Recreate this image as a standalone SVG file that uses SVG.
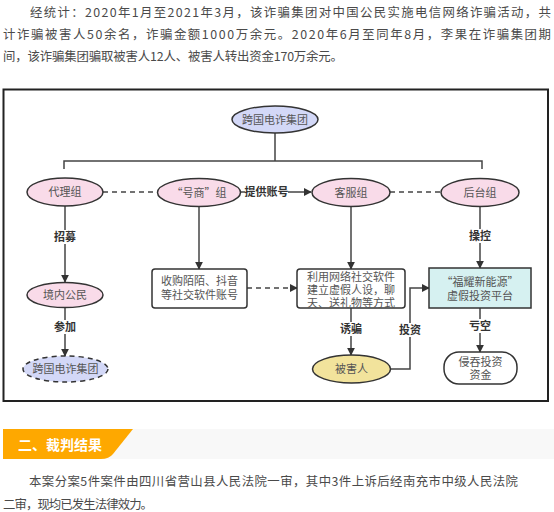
<svg xmlns="http://www.w3.org/2000/svg" width="554" height="512" viewBox="0 0 554 512">
<defs>
<marker id="ah" viewBox="0 0 10 10" refX="9" refY="5" markerWidth="8" markerHeight="8" markerUnits="userSpaceOnUse" orient="auto">
<path d="M0,0 L10,5 L0,10 Z" fill="#333"/>
</marker>
<style>
.para{font-family:"Noto Sans CJK SC","Microsoft YaHei",sans-serif;font-size:12.4px;fill:#4a4a4a}
.nt{font-family:"Noto Sans CJK SC",sans-serif;font-size:11px;fill:#555;text-anchor:middle}
.lb{font-family:"Noto Sans CJK SC",sans-serif;font-size:11px;font-weight:bold;fill:#333;text-anchor:middle}
.sh{stroke:#333;stroke-width:1.5}
.pink{fill:#f9dbe9}
.blue{fill:#d3d8f7}
.yel{fill:#f2e39c}
.cyan{fill:#d6f1f1}
.ln{fill:none;stroke:#444;stroke-width:1.5}
.dash{stroke-dasharray:5,4}
.lbg{fill:#fff}
</style>
</defs>
<rect width="554" height="512" fill="#fff"/>
<text class="para" x="30" y="16.5" textLength="521" lengthAdjust="spacing">经统计：2020年1月至2021年3月，该诈骗集团对中国公民实施电信网络诈骗活动，共</text>
<text class="para" x="3" y="38.5" textLength="548" lengthAdjust="spacing">计诈骗被害人50余名，诈骗金额1000万余元。2020年6月至同年8月，李果在诈骗集团期</text>
<text class="para" x="3" y="60.5" textLength="340" lengthAdjust="spacing">间，该诈骗集团骗取被害人12人、被害人转出资金170万余元。</text>

<rect x="3.5" y="89.5" width="544.5" height="311.5" fill="#fff" stroke="#222" stroke-width="2"/>

<g id="connectors">
<path class="ln" d="M275,133 V161 M64,169 V161 H482 V169"/>
<path class="ln dash" d="M103,192 H157"/>
<path class="ln" d="M240,192 H311" marker-end="url(#ah)"/>
<path class="ln dash" d="M390,192 H441"/>
<path class="ln" d="M65,206 V282" marker-end="url(#ah)"/>
<path class="ln" d="M65,307 V356" marker-end="url(#ah)"/>
<path class="ln" d="M199,207 V269" marker-end="url(#ah)"/>
<path class="ln dash" d="M247,288 H297" marker-end="url(#ah)"/>
<path class="ln" d="M351,207 V269" marker-end="url(#ah)"/>
<path class="ln" d="M351,308 V355" marker-end="url(#ah)"/>
<path class="ln" d="M390,369 H410 V288 H429" marker-end="url(#ah)"/>
<path class="ln" d="M480,207 V268" marker-end="url(#ah)"/>
<path class="ln" d="M480,308 V352" marker-end="url(#ah)"/>
<rect class="lbg" x="245" y="185" width="43" height="14"/>
<text class="lb" x="266.5" y="196">提供账号</text>
<rect class="lbg" x="53" y="230" width="24" height="14"/>
<text class="lb" x="65" y="241">招募</text>
<rect class="lbg" x="53" y="320" width="24" height="14"/>
<text class="lb" x="65" y="331">参加</text>
<rect class="lbg" x="339" y="322" width="24" height="14"/>
<text class="lb" x="351" y="333">诱骗</text>
<rect class="lbg" x="398" y="323" width="24" height="14"/>
<text class="lb" x="410" y="334">投资</text>
<rect class="lbg" x="468" y="229" width="24" height="14"/>
<text class="lb" x="480" y="240">操控</text>
<rect class="lbg" x="468" y="319" width="24" height="14"/>
<text class="lb" x="480" y="330">亏空</text>
</g>

<g id="n_top"><ellipse class="sh blue" cx="275" cy="119.5" rx="43" ry="13.5"/><text class="nt" x="275" y="123.5">跨国电诈集团</text></g>
<g id="n_daili"><ellipse class="sh pink" cx="65" cy="192" rx="38" ry="14"/><text class="nt" x="65" y="196">代理组</text></g>
<g id="n_haoshang"><ellipse class="sh pink" cx="199" cy="192.5" rx="41.5" ry="14"/><text class="nt" x="199" y="196.5">“号商”组</text></g>
<g id="n_kefu"><ellipse class="sh pink" cx="351" cy="192.5" rx="39" ry="14"/><text class="nt" x="351" y="196.5">客服组</text></g>
<g id="n_houtai"><ellipse class="sh pink" cx="480" cy="192.5" rx="39" ry="14"/><text class="nt" x="480" y="196.5">后台组</text></g>
<g id="n_jingnei"><ellipse class="sh pink" cx="65" cy="295" rx="38" ry="12.5"/><text class="nt" x="65" y="299">境内公民</text></g>
<g id="n_join"><ellipse class="sh blue dash" cx="65.5" cy="369" rx="42.5" ry="13"/><text class="nt" x="65.5" y="373">跨国电诈集团</text></g>
<g id="n_buy"><rect class="sh" fill="#fff" x="152" y="269" width="95" height="39" rx="3"/><text class="nt" x="199.5" y="285">收购陌陌、抖音</text><text class="nt" x="199.5" y="298.5">等社交软件账号</text></g>
<g id="n_use"><rect class="sh" fill="#fff" x="297" y="269" width="108" height="39" rx="3"/><text class="nt" x="351" y="281">利用网络社交软件</text><text class="nt" x="351" y="294">建立虚假人设，聊</text><text class="nt" x="351" y="307">天、送礼物等方式</text></g>
<g id="n_platform"><rect class="sh cyan" x="429" y="268" width="102" height="40"/><text class="nt" x="480" y="286">“福耀新能源”</text><text class="nt" x="480" y="300">虚假投资平台</text></g>
<g id="n_victim"><ellipse class="sh yel" cx="351.5" cy="369" rx="39" ry="14"/><text class="nt" x="351.5" y="373">被害人</text></g>
<g id="n_embezzle"><rect class="sh" fill="#fff" x="444" y="352" width="73" height="32" rx="15"/><text class="nt" x="480.5" y="366">侵吞投资</text><text class="nt" x="480.5" y="379">资金</text></g>

<rect x="3" y="429" width="551" height="30" fill="#f8f8f8"/>
<path d="M3,429 H133 L113,454 Q109,459 101,459 H3 Z" fill="#fea800"/>
<text x="18" y="450" font-family="Noto Sans CJK SC,sans-serif" font-size="14" font-weight="bold" fill="#fff">二、裁判结果</text>

<text class="para" x="29" y="485.5" textLength="489" lengthAdjust="spacing">本案分案5件案件由四川省营山县人民法院一审，其中3件上诉后经南充市中级人民法院</text>
<text class="para" x="3" y="508.5" textLength="150" lengthAdjust="spacing">二审，现均已发生法律效力。</text>
</svg>
